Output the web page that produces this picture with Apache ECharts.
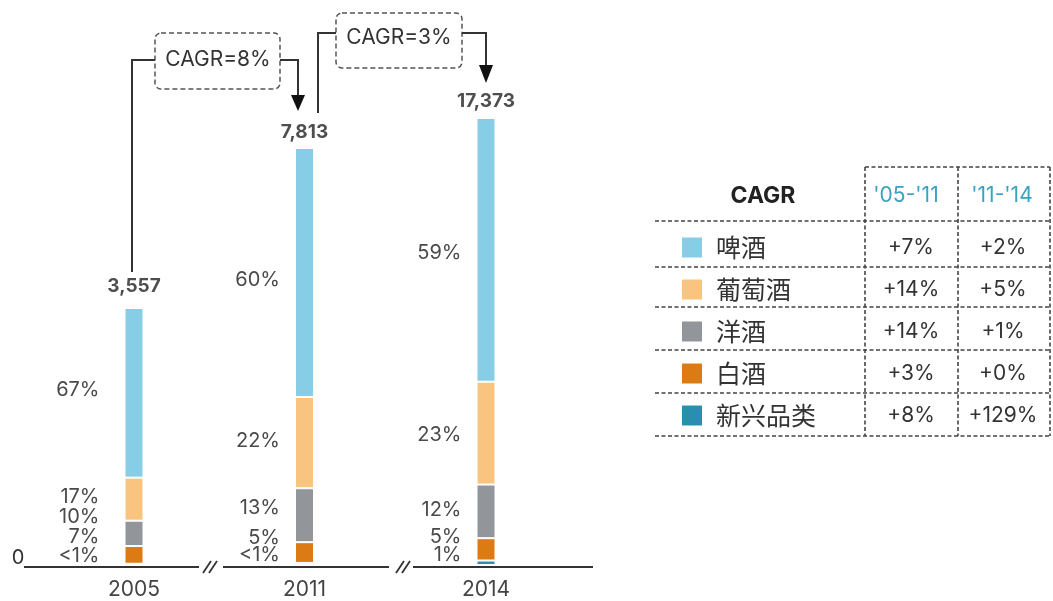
<!DOCTYPE html>
<html>
<head>
<meta charset="utf-8">
<script src="https://cdn.jsdelivr.net/npm/echarts@6/dist/echarts.min.js"></script>
<style>
html,body{margin:0;padding:0;background:#fff;}
#chart{width:1053px;height:601px;}
</style>
</head>
<body>
<div id="chart"></div>
<script>
// ---------------- DATA ----------------
const years = ['2005', '2011', '2014'];
const totals = [3557, 7813, 17373];
const categories = ['啤酒', '葡萄酒', '洋酒', '白酒', '新兴品类'];
const beerShare = [67, 60, 59];
const wineShare = [17, 22, 23];
const spiritsShare = [10, 13, 12];
const baijiuShare = [7, 5, 5];
const emergingShare = [0.5, 0.5, 1];   // "<1%" drawn as a sliver
const periodCagr = ['CAGR=8%', 'CAGR=3%'];
const tableHeaders = ['CAGR', "'05-'11", "'11-'14"];
const cagr0511 = ['+7%', '+14%', '+14%', '+3%', '+8%'];
const cagr1114 = ['+2%', '+5%', '+1%', '+0%', '+129%'];

// ---------------- LAYOUT / STYLE ----------------
const shares = [beerShare, wineShare, spiritsShare, baijiuShare, emergingShare];
const colors = ['#88cde6', '#f8c47f', '#92969b', '#dc7a14', '#2a8fae'];
const FONT = 'Inter, "Noto Sans", "Noto Sans CJK SC", sans-serif';
const CJK = '"Noto Sans CJK SC", sans-serif';
const barCenters = [134, 304.5, 486];
const barTops = [308, 148, 118];
const baseY = 565;
const labelDistance = [25, 15, 15];
const totalDistance = [12, 6, 7];
// vertical nudges of the share labels, [year][category]
const labelDy = [
  [-3, -2, -16, -18, -8],
  [8, -2, -7, -15, -9],
  [3, 2, -1, -12, -8]
];

const grids = [], xAxes = [], yAxes = [], series = [];
years.forEach((yr, i) => {
  grids.push({left: barCenters[i] - 20, width: 40, top: barTops[i], bottom: 601 - baseY});
  xAxes.push({
    type: 'category', gridIndex: i, data: [yr],
    axisLine: {show: false}, axisTick: {show: false},
    axisLabel: {fontSize: 21, color: '#444', fontFamily: FONT, margin: 14}
  });
  yAxes.push({type: 'value', gridIndex: i, min: 0, max: 'dataMax', show: false,
    splitLine: {show: false}});
  // stack bottom to top: emerging, baijiu, spirits, wine, beer
  for (let c = categories.length - 1; c >= 0; c--) {
    series.push({
      type: 'bar', name: categories[c], xAxisIndex: i, yAxisIndex: i,
      stack: 's' + i, barWidth: 19,
      itemStyle: {color: colors[c], borderColor: '#fff', borderWidth: 1},
      label: {
        show: true, position: 'left', distance: labelDistance[i],
        offset: [0, labelDy[i][c]],
        fontSize: 20, color: '#4a4a4a', fontFamily: FONT, lineHeight: 19,
        formatter: p => (p.value < 1 ? '<1%' : p.value + '%')
      },
      data: [shares[c][i]]
    });
  }
  const sum = shares.reduce((a, s) => a + s[i], 0);
  series.push({
    type: 'scatter', xAxisIndex: i, yAxisIndex: i, symbolSize: 0,
    label: {show: true, position: 'top', distance: totalDistance[i],
      fontSize: 19, fontWeight: 'bold', color: '#222', fontFamily: FONT,
      formatter: () => totals[i].toLocaleString('en-US')},
    data: [[0, sum]]
  });
});

// ---------------- GRAPHIC (axis breaks, CAGR callouts, table) ----------------
const G = [];
const lineStyle = {stroke: '#333', lineWidth: 2};
function line(x1, y1, x2, y2, style) {
  G.push({type: 'line', shape: {x1, y1, x2, y2}, style: Object.assign({}, lineStyle, style || {}), silent: true});
}
function text(t, x, y, font, fill, align) {
  G.push({type: 'text', style: {text: t, x, y, font, fill: fill || '#333',
    textAlign: align || 'center', textVerticalAlign: 'middle'}, silent: true});
}
// baseline with breaks
line(24, 567, 199, 567);
line(223, 567, 389, 567);
line(413, 567, 593, 567);
[[203, 211], [209, 217], [396, 404], [402, 410]].forEach(([a, b]) => line(a, 573, b, 561, {lineWidth: 1.8}));
text('0', 18, 558, '20px ' + FONT, '#333');

// CAGR callouts
function dashedBox(x, y, w, h) {
  G.push({type: 'rect', shape: {x, y, width: w, height: h, r: 6},
    style: {fill: 'none', stroke: '#555', lineWidth: 1.5, lineDash: [5, 3]}, silent: true});
}
function arrow(cx, y1, y2) {
  G.push({type: 'polygon', shape: {points: [[cx - 7, y1], [cx + 7, y1], [cx, y2]]},
    style: {fill: '#111'}, silent: true});
}
dashedBox(155, 33, 125, 56);
text(periodCagr[0], 218, 60, '21px ' + FONT, '#333');
G.push({type: 'polyline', shape: {points: [[132, 272], [132, 60], [155, 60]]}, style: Object.assign({fill: 'none'}, lineStyle), silent: true});
G.push({type: 'polyline', shape: {points: [[280, 60], [298, 60], [298, 96]]}, style: Object.assign({fill: 'none'}, lineStyle), silent: true});
arrow(298, 95, 111);

dashedBox(336, 13, 126, 55);
text(periodCagr[1], 399, 38, '21px ' + FONT, '#333');
G.push({type: 'polyline', shape: {points: [[318, 113], [318, 33], [336, 33]]}, style: Object.assign({fill: 'none'}, lineStyle), silent: true});
G.push({type: 'polyline', shape: {points: [[462, 33], [486, 33], [486, 66]]}, style: Object.assign({fill: 'none'}, lineStyle), silent: true});
arrow(486, 65, 83);

// table
const dash = {stroke: '#444', lineWidth: 1.6, lineDash: [4, 2.5]};
[865, 958, 1050].forEach(x => line(x, 167, x, 436, dash));
line(865, 167, 1050, 167, dash);
[221, 267, 307, 350, 393, 436].forEach(y => line(655, y, 1050, y, dash));
text(tableHeaders[0], 763, 196, 'bold 23px ' + FONT, '#222');
text(tableHeaders[1], 906, 196, '21px ' + FONT, '#3aa3c2');
text(tableHeaders[2], 1002, 196, '21px ' + FONT, '#3aa3c2');
categories.forEach((c, k) => {
  const y = 248 + 42 * k;
  text(cagr0511[k], 911, y, '21px ' + FONT, '#333');
  text(cagr1114[k], 1003, y, '21px ' + FONT, '#333');
});

const chart = echarts.init(document.getElementById('chart'));
chart.setOption({
  animation: false,
  backgroundColor: '#fff',
  grid: grids, xAxis: xAxes, yAxis: yAxes, series: series,
  legend: {
    data: categories, orient: 'vertical', left: 680, top: 235, padding: 0,
    itemWidth: 22, itemHeight: 22, itemGap: 17, icon: 'rect',
    selectedMode: false,
    textStyle: {fontSize: 25, color: '#333', fontFamily: CJK, lineHeight: 25, padding: [0, 0, 0, 8]}
  },
  graphic: G
});
</script>
</body>
</html>
